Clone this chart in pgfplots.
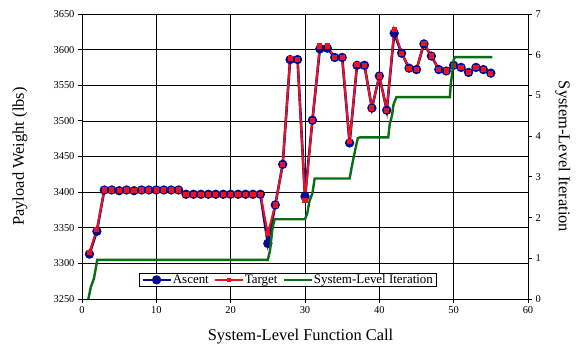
\documentclass[border=0pt]{standalone}
\usepackage{fontspec}
\setmainfont{Liberation Serif}
\usepackage{pgfplots}
\pgfplotsset{compat=1.18}
\definecolor{navyc}{RGB}{10,10,140}
\definecolor{redc}{RGB}{235,20,30}
\definecolor{greenc}{RGB}{10,110,20}
\begin{document}
\begin{tikzpicture}
\useasboundingbox (-82bp,-51bp) rectangle (496bp,299bp);
\pgfplotsset{
 every axis/.append style={scale only axis, width=446bp, height=285bp, xmin=0, xmax=60,
   tick align=outside, major tick length=4bp,
   /pgf/number format/assume math mode=true,
   /pgf/number format/1000 sep={},
   tick label style={font=\fontsize{10.5}{12}\selectfont},
   axis line style={line width=0.8bp},
   tick style={line width=0.8bp, black}},
}
\begin{axis}[ymin=3250, ymax=3650, ytick={3250,3300,...,3650}, xtick={0,10,...,60},
  grid=major, major grid style={black, line width=0.7bp},
  xtick pos=bottom, ytick pos=left,
  ylabel={Payload Weight (lbs)}, xlabel={System-Level Function Call},
  every axis y label/.style={at={(axis description cs:-0.139,0.5)},rotate=90,anchor=center,font=\fontsize{16.5}{19}\selectfont},
  every axis x label/.style={at={(axis description cs:0.49,-0.133)},anchor=center,font=\fontsize{16.5}{19}\selectfont}]
\addplot[navyc, line width=2.6bp, mark=*, mark size=3.3bp, mark options={solid}] coordinates {
(1,3313) (2,3345) (3,3403) (4,3403) (5,3402) (6,3403) (7,3402) (8,3403) (9,3403) (10,3403)
(11,3403) (12,3403) (13,3403) (14,3397) (15,3397) (16,3397) (17,3397) (18,3397) (19,3397) (20,3397)
(21,3397) (22,3397) (23,3397) (24,3397) (25,3328) (26,3382) (27,3439) (28,3586) (29,3586) (30,3394)
(31,3501) (32,3601) (33,3602) (34,3589) (35,3589) (36,3469) (37,3578) (38,3578) (39,3518) (40,3563)
(41,3515) (42,3623) (43,3595) (44,3574) (45,3572) (46,3608) (47,3591) (48,3572) (49,3570) (50,3578)
(51,3575) (52,3568) (53,3575) (54,3572) (55,3567)};
\addplot[redc, line width=2bp, mark=square*, mark size=1.6bp, mark options={solid}] coordinates {
(1,3315) (2,3348) (3,3403) (4,3403) (5,3402) (6,3403) (7,3402) (8,3403) (9,3403) (10,3403)
(11,3403) (12,3403) (13,3403) (14,3397) (15,3397) (16,3397) (17,3397) (18,3397) (19,3397) (20,3397)
(21,3397) (22,3397) (23,3397) (24,3397) (25,3342) (26,3382) (27,3439) (28,3588) (29,3586) (30,3388)
(31,3501) (32,3605) (33,3605) (34,3589) (35,3589) (36,3471) (37,3579) (38,3578) (39,3518) (40,3563)
(41,3515) (42,3628) (43,3595) (44,3574) (45,3572) (46,3609) (47,3591) (48,3572) (49,3570) (50,3578)
(51,3575) (52,3568) (53,3575) (54,3572) (55,3567)};
\end{axis}
\begin{axis}[ymin=0, ymax=7, ytick={0,1,...,7}, axis y line*=right, axis x line=none,
  ylabel={System-Level Iteration},
  every axis y label/.style={at={(axis description cs:1.078,0.5)},rotate=-90,anchor=center,font=\fontsize{16.5}{19}\selectfont},
  legend columns=3,
  legend style={at={(0.461,0.042)}, anchor=south, draw=black, line width=0.8bp, fill=white,
    font=\fontsize{13}{14}\selectfont, inner xsep=2bp, inner ysep=0.5bp,
    nodes={inner sep=1bp},
    /tikz/every even column/.append style={column sep=4bp}},
  legend cell align=left,
  legend image code/.code={\draw[mark repeat=2,mark phase=2,#1] plot coordinates {(0bp,0bp) (14bp,0bp) (28bp,0bp)};}]
\addlegendimage{navyc, line width=2.6bp, mark=*, mark size=3.3bp, mark options={solid}}
\addlegendentry{Ascent}
\addlegendimage{redc, line width=2bp, mark=square*, mark size=1.2bp, mark options={solid}}
\addlegendentry{Target}
\addplot[greenc, line width=2.4bp, mark=none] coordinates {
(0.85,0) (1.2,0.3) (1.6,0.5) (1.9,0.8) (2.05,0.96) (25,0.96) (25.3,1.2) (25.6,1.7) (25.9,1.96) (26.2,1.96)
(30,1.96) (30.3,2.1) (30.6,2.4) (31,2.6) (31.3,2.96) (36,2.96) (36.4,3.35) (36.8,3.7) (37.1,3.95) (37.4,3.97)
(41.2,3.97) (41.4,4.3) (41.7,4.5) (41.9,4.77) (42.3,4.96) (49.5,4.96) (49.6,5.26) (49.8,5.54) (50,5.88) (50.2,5.94)
(55.2,5.94)};
\addlegendentry{System-Level Iteration}
\end{axis}
\end{tikzpicture}
\end{document}
